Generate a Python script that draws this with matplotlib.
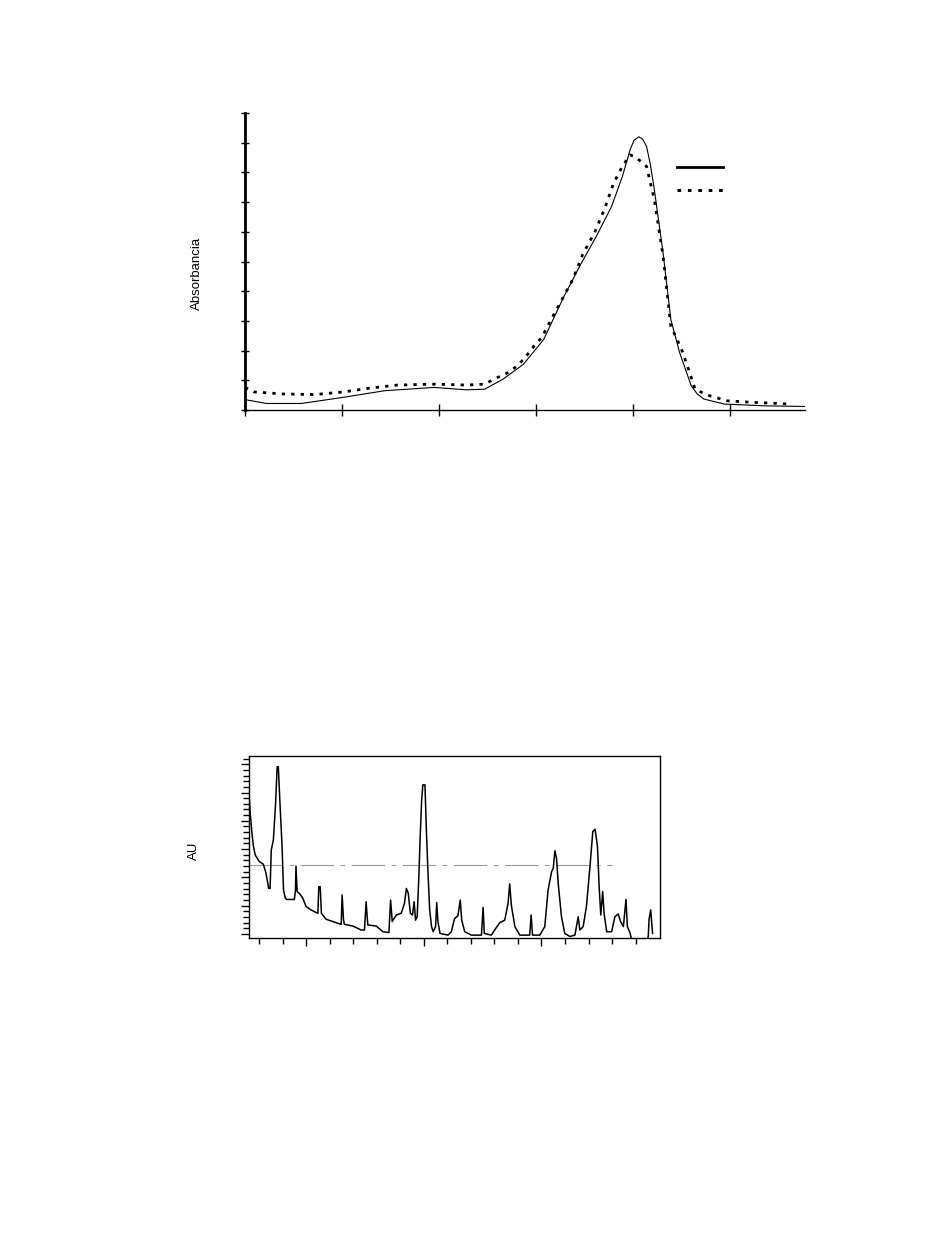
import numpy as np
import matplotlib.pyplot as plt
from matplotlib.lines import Line2D

plt.rcParams['font.family'] = ['Liberation Sans', 'DejaVu Sans']

# top panel: absorbance spectra (arbitrary x units, tick every 1)
spec_x_solid = [0.0, 0.22, 0.58, 1.02, 1.44, 1.95, 2.28, 2.47, 2.66, 2.87, 3.08, 3.29,
                3.46, 3.63, 3.78, 3.89, 3.97, 4.01, 4.06, 4.10, 4.14, 4.18, 4.22, 4.31,
                4.39, 4.48, 4.60, 4.66, 4.73, 4.94, 5.36, 5.77]
spec_y_solid = [0.35, 0.22, 0.22, 0.43, 0.65, 0.76, 0.68, 0.70, 1.04, 1.54, 2.38, 3.84,
                4.90, 5.90, 6.86, 7.86, 8.76, 9.08, 9.20, 9.12, 8.87, 8.25, 7.42, 5.29,
                3.05, 1.94, 0.82, 0.55, 0.37, 0.20, 0.14, 0.12]

spec_x_dot = [0.0, 0.09, 0.39, 0.72, 1.02, 1.27, 1.57, 1.95, 2.28, 2.47, 2.58, 2.70,
              2.81, 2.90, 3.00, 3.06, 3.12, 3.25, 3.38, 3.48, 3.61, 3.71, 3.80, 3.89,
              3.97, 4.03, 4.14, 4.22, 4.31, 4.39, 4.50, 4.56, 4.64, 4.77, 4.97, 5.22, 5.64]
spec_y_dot = [0.76, 0.61, 0.54, 0.52, 0.61, 0.73, 0.84, 0.87, 0.84, 0.87, 1.06, 1.24,
              1.49, 1.82, 2.24, 2.44, 2.83, 3.61, 4.40, 5.23, 6.02, 6.80, 7.64, 8.20,
              8.59, 8.51, 8.20, 7.08, 5.18, 2.83, 2.05, 1.49, 0.70, 0.50, 0.31, 0.26, 0.20]

# bottom panel: chromatogram
chrom_t = [2.56, 2.62, 2.70, 2.76, 2.84, 3.01, 3.18, 3.30, 3.41, 3.47, 3.52, 3.61, 3.70,
           3.77, 3.82, 3.89, 3.98, 4.04, 4.12, 4.18, 4.50, 4.55, 4.57, 4.62, 4.74, 4.86,
           5.00, 5.21, 5.50, 5.54, 5.60, 5.65, 5.85, 6.13, 6.49, 6.53, 6.59, 6.63, 6.99,
           7.34, 7.48, 7.55, 7.62, 7.98, 8.26, 8.52, 8.59, 8.66, 8.83, 9.04, 9.18, 9.26,
           9.34, 9.43, 9.52, 9.59, 9.65, 9.72, 9.79, 9.85, 9.91, 9.96, 10.05, 10.11, 10.18,
           10.25, 10.33, 10.40, 10.50, 10.55, 10.60, 10.69, 11.03, 11.17, 11.31, 11.45,
           11.55, 11.61, 11.74, 12.02, 12.45, 12.52, 12.57, 12.87, 13.06, 13.23, 13.44,
           13.58, 13.65, 13.72, 13.87, 14.08, 14.50, 14.56, 14.62, 14.93, 15.14, 15.28,
           15.43, 15.50, 15.57, 15.64, 15.71, 15.85, 15.99, 16.21, 16.42, 16.56, 16.63,
           16.77, 16.91, 17.06, 17.18, 17.28, 17.38, 17.45, 17.52, 17.60, 17.66, 17.77,
           17.98, 18.12, 18.26, 18.36, 18.48, 18.59, 18.65, 18.77, 18.85, 19.50, 19.54,
           19.57, 19.64, 19.72]
chrom_au = [5.21, 4.32, 3.56, 3.11, 2.79, 2.56, 2.47, 2.14, 1.61, 1.61, 2.97, 3.32, 4.56,
            5.91, 5.91, 4.62, 3.09, 1.55, 1.26, 1.22, 1.22, 1.55, 2.40, 1.50, 1.41, 1.26,
            0.97, 0.85, 0.73, 1.67, 1.67, 0.73, 0.52, 0.44, 0.34, 1.38, 0.49, 0.34, 0.28,
            0.14, 0.14, 1.14, 0.32, 0.28, 0.08, 0.05, 1.20, 0.44, 0.67, 0.73, 1.08, 1.61,
            1.44, 0.73, 0.67, 1.14, 0.49, 0.61, 2.03, 3.50, 4.73, 5.27, 5.27, 3.68, 2.14,
            0.85, 0.26, 0.08, 0.26, 1.11, 0.44, 0.02, -0.04, 0.08, 0.55, 0.64, 1.20, 0.49,
            0.08, -0.04, -0.04, 0.94, 0.02, -0.04, 0.20, 0.40, 0.49, 1.08, 1.77, 1.02,
            0.26, -0.04, -0.04, 0.67, -0.04, -0.04, 0.26, 1.55, 2.20, 2.32, 2.94, 2.67,
            1.79, 0.61, 0.02, -0.09, -0.04, 0.61, 0.14, 0.26, 0.97, 2.38, 3.62, 3.70,
            3.09, 1.67, 0.67, 1.50, 0.73, 0.08, 0.08, 0.61, 0.71, 0.44, 0.26, 1.22, 0.26,
            0.02, -0.30, -0.30, -0.04, 0.52, 0.85, 0.02]
base_t = [2.56, 17.98]
base_au = [2.44, 2.44]

fig = plt.figure(figsize=(9.5, 12.6), dpi=100)

# ---- top: spectra
ax1 = fig.add_axes([0.258, 0.6746, 0.589, 0.2357])
ax1.plot(spec_x_solid, spec_y_solid, color='black', lw=0.8)
ax1.plot(spec_x_dot, spec_y_dot, color='black', lw=2.0, linestyle=(0, (1.2, 2.2)))
ax1.set_xlim(0, 5.77)
ax1.set_ylim(0, 10)
ax1.set_xticks(np.arange(0, 6))
ax1.set_yticks(np.arange(0, 11))
ax1.tick_params(axis='both', direction='inout', labelleft=False, labelbottom=False)
ax1.tick_params(axis='y', length=6, width=1)
ax1.tick_params(axis='x', length=8, width=1)
for s in ['top', 'right']:
    ax1.spines[s].set_visible(False)
ax1.spines['left'].set_linewidth(2)
ax1.spines['bottom'].set_linewidth(1)
ax1.set_ylabel('Absorbancia', fontsize=9.5)
ax1.yaxis.set_label_coords(-0.076, 0.46)
handles = [Line2D([], [], color='black', lw=2),
           Line2D([], [], color='black', lw=2.2, linestyle=(0, (1.2, 2.2)))]
ax1.legend(handles, ['', ''], loc='upper left', bbox_to_anchor=(0.75, 0.88),
           frameon=False, handlelength=3.3, labelspacing=0.6, handletextpad=0)

# ---- bottom: chromatogram
ax2 = fig.add_axes([0.262, 0.2556, 0.4326, 0.1444])
ax2.plot(base_t, base_au, color='#999999', lw=0.8, linestyle=(0, (30, 6, 4, 6)))
ax2.plot(chrom_t, chrom_au, color='black', lw=1.1)
ax2.set_xlim(2.57, 20.03)
ax2.set_ylim(-0.14, 6.29)
ax2.set_xticks([5, 10, 15])
ax2.set_xticks(np.arange(3, 20), minor=True)
ax2.set_yticks(np.arange(0, 7))
ax2.set_yticks(np.arange(0, 6.3, 0.2), minor=True)
ax2.tick_params(which='major', length=6, width=1, labelleft=False, labelbottom=False)
ax2.tick_params(which='minor', length=4, width=1)
for s in ax2.spines.values():
    s.set_linewidth(1)
ax2.set_ylabel('AU', fontsize=9.5)
ax2.yaxis.set_label_coords(-0.119, 0.48)

fig.savefig('out.png', dpi=100)
